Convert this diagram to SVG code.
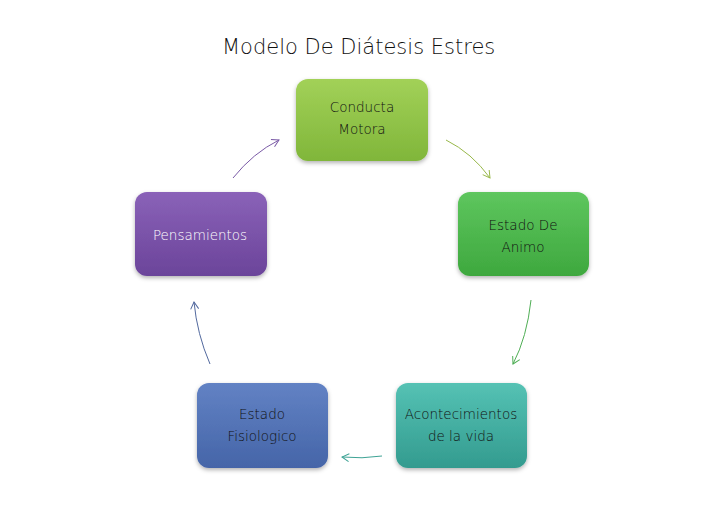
<svg xmlns="http://www.w3.org/2000/svg" width="728" height="515" viewBox="0 0 728 515">
<defs>
<linearGradient id="gY" x1="0" y1="0" x2="0" y2="1"><stop offset="0" stop-color="#a2d158"/><stop offset="1" stop-color="#80b63a"/></linearGradient>
<linearGradient id="gG" x1="0" y1="0" x2="0" y2="1"><stop offset="0" stop-color="#5ec65e"/><stop offset="1" stop-color="#3ea83e"/></linearGradient>
<linearGradient id="gT" x1="0" y1="0" x2="0" y2="1"><stop offset="0" stop-color="#55c2b4"/><stop offset="1" stop-color="#339b8f"/></linearGradient>
<linearGradient id="gB" x1="0" y1="0" x2="0" y2="1"><stop offset="0" stop-color="#6282c4"/><stop offset="1" stop-color="#4565a8"/></linearGradient>
<linearGradient id="gP" x1="0" y1="0" x2="0" y2="1"><stop offset="0" stop-color="#8a62b8"/><stop offset="1" stop-color="#6b449a"/></linearGradient>
<filter id="sh" x="-10%" y="-10%" width="130%" height="130%"><feDropShadow dx="0" dy="2" stdDeviation="2" flood-color="#000" flood-opacity="0.3"/></filter>
<marker id="mP" markerWidth="10" markerHeight="10" refX="8" refY="5" orient="auto" markerUnits="userSpaceOnUse"><path d="M1,1 L8,5 L1,9" fill="none" stroke="#7a5aa6" stroke-width="1"/></marker>
<marker id="mY" markerWidth="10" markerHeight="10" refX="8" refY="5" orient="auto" markerUnits="userSpaceOnUse"><path d="M1,1 L8,5 L1,9" fill="none" stroke="#98b84a" stroke-width="1"/></marker>
<marker id="mG" markerWidth="10" markerHeight="10" refX="8" refY="5" orient="auto" markerUnits="userSpaceOnUse"><path d="M1,1 L8,5 L1,9" fill="none" stroke="#4fae55" stroke-width="1"/></marker>
<marker id="mT" markerWidth="10" markerHeight="10" refX="8" refY="5" orient="auto" markerUnits="userSpaceOnUse"><path d="M1,1 L8,5 L1,9" fill="none" stroke="#3ea395" stroke-width="1"/></marker>
<marker id="mB" markerWidth="10" markerHeight="10" refX="8" refY="5" orient="auto" markerUnits="userSpaceOnUse"><path d="M1,1 L8,5 L1,9" fill="none" stroke="#52699e" stroke-width="1"/></marker>
</defs>
<style>
.box{filter:url(#sh)}
.t{font-family:"DejaVu Sans","Liberation Sans",sans-serif;font-weight:200;font-size:13.5px;text-anchor:middle;fill:#111}
.w{fill:#fff}
.title{font-family:"DejaVu Sans","Liberation Sans",sans-serif;font-weight:200;font-size:21px;fill:#111}
.c{fill:none;stroke-width:1}
</style>
<rect width="728" height="515" fill="#fff"/>
<text class="title" x="222" y="54">Modelo De Diátesis Estres</text>
<g id="conducta">
<rect class="box" x="296" y="79" width="132" height="82" rx="12" fill="url(#gY)"/>
<text class="t" x="362" y="112">Conducta</text>
<text class="t" x="362" y="134">Motora</text>
</g>
<g id="animo">
<rect class="box" x="458" y="192" width="131" height="84" rx="12" fill="url(#gG)"/>
<text class="t" x="523" y="230">Estado De</text>
<text class="t" x="523" y="252">Animo</text>
</g>
<g id="acontecimientos">
<rect class="box" x="396" y="383" width="131" height="85" rx="12" fill="url(#gT)"/>
<text class="t" x="461" y="419">Acontecimientos</text>
<text class="t" x="461" y="441">de la vida</text>
</g>
<g id="fisiologico">
<rect class="box" x="197" y="383" width="131" height="85" rx="12" fill="url(#gB)"/>
<text class="t" x="262" y="419">Estado</text>
<text class="t" x="262" y="441">Fisiologico</text>
</g>
<g id="pensamientos">
<rect class="box" x="135" y="192" width="132" height="84" rx="12" fill="url(#gP)"/>
<text class="t w" x="200" y="240">Pensamientos</text>
</g>
<g id="connectors">
<path class="c" d="M233,178 Q253,153 279,140" stroke="#7a5aa6" marker-end="url(#mP)"/>
<path class="c" d="M446,140 Q472,153 490,178" stroke="#98b84a" marker-end="url(#mY)"/>
<path class="c" d="M531,300 Q527,337 513,364" stroke="#4fae55" marker-end="url(#mG)"/>
<path class="c" d="M382,456 Q362,459 342,457" stroke="#3ea395" marker-end="url(#mT)"/>
<path class="c" d="M210,364 Q197,334 194,302" stroke="#52699e" marker-end="url(#mB)"/>
</g>
</svg>
